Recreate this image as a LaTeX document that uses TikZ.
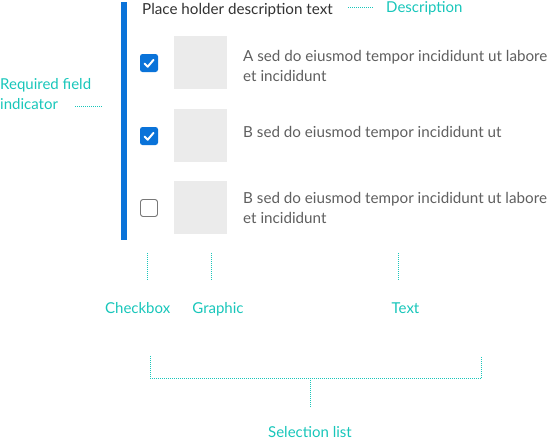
\documentclass[tikz,border=0pt]{standalone}
\usepackage{fontspec}
\setmainfont{Lato}
\usepackage{tikz}
\usetikzlibrary{positioning}
\definecolor{tealnote}{RGB}{24,198,186}
\definecolor{barblue}{RGB}{10,115,217}
\definecolor{bodygrey}{RGB}{95,95,95}
\definecolor{headgrey}{RGB}{50,50,50}
\definecolor{thumbgrey}{RGB}{235,235,235}
\definecolor{boxgrey}{RGB}{120,120,120}

\begin{document}
\begin{tikzpicture}[x=1pt,y=1pt,yscale=-1,xscale=1,
  note/.style={text=tealnote,font=\fontsize{15}{20}\selectfont,inner sep=0pt},
  body/.style={text=bodygrey,font=\fontsize{15.2}{20}\selectfont,inner sep=0pt,align=left},
  leader/.style={tealnote,dash pattern={on 1pt off 1pt},line width=0.8},
  thumb/.style={fill=thumbgrey,minimum size=53,inner sep=0pt},
  checkon/.style={fill=barblue,rounded corners=2.5,minimum size=18,inner sep=0pt},
  checkoff/.style={draw=boxgrey,line width=0.9,rounded corners=2.5,minimum size=17,inner sep=0pt}]
\useasboundingbox (0,0) rectangle (549,439);
%Required field bar
\fill [barblue] (121,2) rectangle (126.5,240) ;
% Header text
\node [body,text=headgrey,anchor=base west] (head) at (142,14) {Place holder description text};
% Rows: box, graphic, text
\foreach \n/\y/\ty/\state/\txt in {1/62.5/66/checkon/{A sed do eiusmod tempor incididunt ut labore\\et incididunt},
  2/135.5/133/checkon/{B sed do eiusmod tempor incididunt ut},
  3/207.5/208/checkoff/{B sed do eiusmod tempor incididunt ut labore\\et incididunt}}{
  \node [\state] (box\n) at (149,\y+0.5) {};
  \node [thumb] (pic\n) at (200.5,\y) {};
  \node [body,anchor=west] (txt\n) at (243,\ty) {\txt};
}
%Check marks
\foreach \n in {1,2}{
  \draw [white,line width=2,line cap=round,line join=round] ([shift={(-4.5,0.5)}]box\n.center) -- ++(3.2,3.2) -- ++(5.8,-6.8) ;
}
% Notes
\node [note,anchor=base west] (desc) at (386,12.5) {Description};
\node [note,anchor=west,align=left] (req) at (0,94) {Required field\\indicator};
\node [note,anchor=base] (chk) at (137.7,313) {Checkbox};
\node [note,anchor=base] (gfx) at (218,313) {Graphic};
\node [note,anchor=base] (txt) at (405.5,313) {Text};
\node [note,anchor=base] (sel) at (310,437) {Selection list};
%Leader lines
\coordinate (descA) at (348,7.5);
\coordinate (descB) at (374,7.5);
\coordinate (reqA) at (75,106);
\coordinate (reqB) at (102,106);
\draw [leader] (descA) -- (descB) ;
\draw [leader] (reqA) -- (reqB) ;
\draw [leader] (147.3,253) -- (147.3,281) ;
\draw [leader] (211,253) -- (211,281) ;
\draw [leader] (398.5,253) -- (398.5,281) ;
\coordinate (selL) at (150,356);
\coordinate (selR) at (481.5,356);
\coordinate (selM) at (310,378);
\draw [leader] (selL) |- (selM) -| (selR) ;
\draw [leader] (selM) -- (310,407) ;
\end{tikzpicture}
\end{document}
